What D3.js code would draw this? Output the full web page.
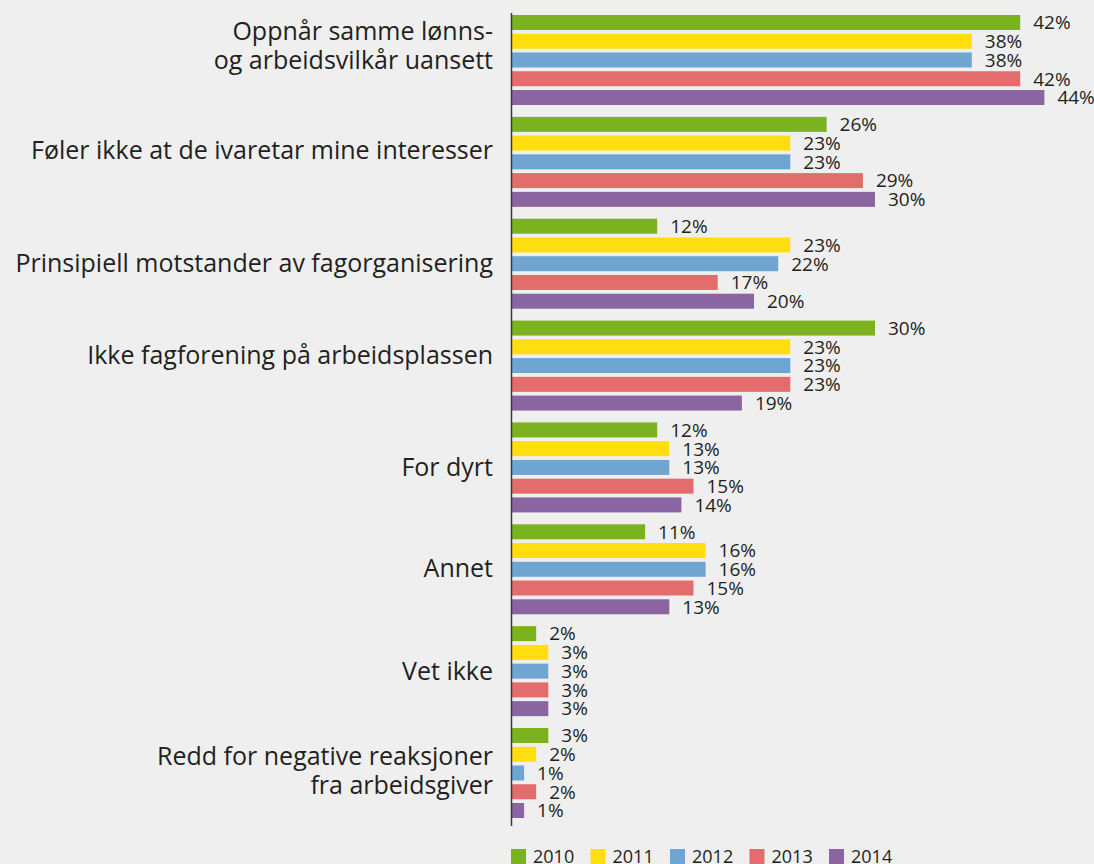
<!DOCTYPE html>
<html>
<head>
<meta charset="utf-8">
<script src="https://cdn.jsdelivr.net/npm/d3@7"></script>
<style>
  body { margin: 0; background: #efefef; }
  svg { display: block; }
  text { font-family: "Open Sans", sans-serif; fill: #231f20; }
</style>
</head>
<body>
<svg id="chart" width="1094" height="864"></svg>
<script>
// Reasons (one array entry per line of the label)
const categories = [
  ["Oppnår samme lønns-", "og arbeidsvilkår uansett"],
  ["Føler ikke at de ivaretar mine interesser"],
  ["Prinsipiell motstander av fagorganisering"],
  ["Ikke fagforening på arbeidsplassen"],
  ["For dyrt"],
  ["Annet"],
  ["Vet ikke"],
  ["Redd for negative reaksjoner", "fra arbeidsgiver"]
];
const years = ["2010", "2011", "2012", "2013", "2014"];
const colors = ["#7bb31f", "#ffde0f", "#6fa5d3", "#e36c6c", "#8b65a1"];

// percent per year, one array per year, same order as categories
const v2010 = [42, 26, 12, 30, 12, 11, 2, 3];
const v2011 = [38, 23, 23, 23, 13, 16, 3, 2];
const v2012 = [38, 23, 22, 23, 13, 16, 3, 1];
const v2013 = [42, 29, 17, 23, 15, 15, 3, 2];
const v2014 = [44, 30, 20, 19, 14, 13, 3, 1];
const series = [v2010, v2011, v2012, v2013, v2014];

// the original labels are not exactly centred on their groups
const labelShift = [-14, -12, 0, -10, 0, -1, 0, -2];

const svg = d3.select("#chart");
const axisX = 511.5;

// scales
const x = d3.scaleLinear().domain([0, 44]).range([axisX + 0.5, 1044.4]);
const y0 = d3.scaleBand()
  .domain(d3.range(categories.length))
  .range([15, 818])
  .paddingInner(0.1164)
  .paddingOuter(0);
const y1 = d3.scaleBand()
  .domain(d3.range(years.length))
  .range([0, y0.bandwidth()])
  .paddingInner(0.2)
  .paddingOuter(0);

const groups = svg.selectAll("g.grp")
  .data(categories)
  .enter()
  .append("g")
  .attr("class", "grp")
  .attr("transform", (d, i) => "translate(0," + y0(i) + ")");

// bars
groups.selectAll("rect")
  .data((d, i) => series.map((s, j) => ({ v: s[i], j: j })))
  .enter()
  .append("rect")
  .attr("x", x(0))
  .attr("y", d => y1(d.j))
  .attr("width", d => x(d.v) - x(0))
  .attr("height", y1.bandwidth())
  .style("fill", d => colors[d.j]);

// value labels
groups.selectAll("text.val")
  .data((d, i) => series.map((s, j) => ({ v: s[i], j: j })))
  .enter()
  .append("text")
  .attr("class", "val")
  .attr("x", d => x(d.v) + 13)
  .attr("y", d => y1(d.j) + y1.bandwidth() / 2)
  .attr("dy", "0.36em")
  .style("font-size", "19px")
  .text(d => d.v + "%");

// category labels
groups.append("text")
  .attr("class", "cat")
  .attr("text-anchor", "end")
  .attr("x", 493)
  .style("font-size", "25px")
  .each(function (lines, i) {
    const t = d3.select(this);
    const lh = 29;
    const top = y0.bandwidth() / 2 - (lines.length - 1) * lh / 2 + labelShift[i];
    lines.forEach((l, k) => {
      t.append("tspan")
        .attr("x", 493)
        .attr("y", top + k * lh)
        .attr("dy", "0.35em")
        .text(l);
    });
  });

// axis line
svg.append("line")
  .attr("x1", axisX).attr("x2", axisX)
  .attr("y1", 13).attr("y2", 826)
  .style("stroke", "#3a3a3a")
  .style("stroke-width", 1.5);

// legend
const legend = svg.selectAll("g.leg")
  .data(years)
  .enter()
  .append("g")
  .attr("class", "leg")
  .attr("transform", (d, i) => "translate(" + (511 + i * 79.5) + ",849)");

legend.append("rect")
  .attr("width", 15)
  .attr("height", 15)
  .style("fill", (d, i) => colors[i]);

legend.append("text")
  .attr("x", 22)
  .attr("y", 14)
  .style("font-size", "18px")
  .text(d => d);
</script>
</body>
</html>
